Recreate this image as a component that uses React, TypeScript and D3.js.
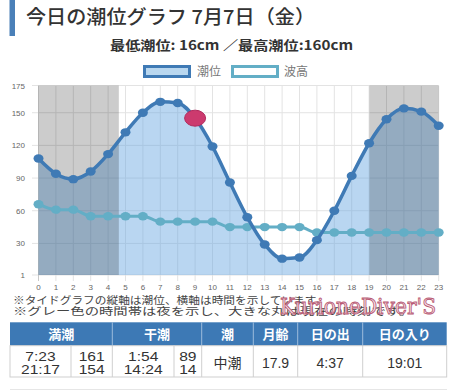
import * as d3 from 'd3';

const hours = d3.range(0, 24);
const tide = [108, 94, 89, 96, 112, 132, 150, 160, 159, 145, 119, 86, 54, 29, 16, 17, 33, 60, 92, 122, 144, 154, 151, 138];
const wave = [66, 61, 61, 55, 55, 55, 55, 50, 50, 50, 50, 45, 45, 45, 45, 45, 40, 40, 40, 40, 40, 40, 40, 40];
const yTicks = [1, 30, 60, 90, 120, 150, 175];
const nights: [number, number][] = [[0, 4.617], [19.017, 23]];
const currentHour = 9;

const notes = [
  '※タイドグラフの縦軸は潮位、横軸は時間を示しています。',
  '※グレー色の時間帯は夜を示し、大きな丸は現在の時刻です。',
];
const headers = ['満潮', '干潮', '潮', '月齢', '日の出', '日の入り'];
const highTimes = ['7:23', '21:17'];
const highLevels = ['161', '154'];
const lowTimes = ['1:54', '14:24'];
const lowLevels = ['89', '14'];
const singles = ['中潮', '17.9', '4:37', '19:01'];

const FONT = '"Noto Sans CJK JP", "Noto Sans", sans-serif';
const NUM_FONT = '"Liberation Sans", Arial, sans-serif';
const BLUE = '#3f7ab5';
const TEAL = '#63aec6';

export default function App() {
  const x = d3.scaleLinear().domain([0, 23]).range([38.5, 438.7]);
  const y = d3.scaleLinear().domain([1, 175]).range([275, 85.5]);

  const line = d3.line<number>().x((_, i) => x(i)).y((d) => y(d)).curve(d3.curveMonotoneX);
  const area = d3.area<number>().x((_, i) => x(i)).y0(y(1)).y1((d) => y(d)).curve(d3.curveMonotoneX);

  // table columns
  const cols = [10, 112.3, 201.7, 253.3, 297.7, 362.7, 446.7];
  const subHigh = 71;
  const subLow = 174;
  const tTop = 322.3, tMid = 345.7, tBot = 377;

  const twoLine: [string[], number][] = [
    [highTimes, (cols[0] + subHigh) / 2],
    [highLevels, (subHigh + cols[1]) / 2],
    [lowTimes, (cols[1] + subLow) / 2],
    [lowLevels, (subLow + cols[2]) / 2],
  ];

  return (
    <svg width={457} height={391} style={{ position: 'absolute', left: 0, top: 0 }} fontFamily={FONT}>
      <rect x={0} y={0} width={457} height={391} fill="#fff" />
      <rect x={9.5} y={0} width={5.5} height={36} fill="#4a80b8" />
      <text x={26} y={24} fontSize={19} fontWeight={500} fill="#333" textLength={289} lengthAdjust="spacingAndGlyphs">
        今日の潮位グラフ 7月7日（金）
      </text>
      <text x={231.5} y={49.5} fontSize={13} fontWeight={700} fill="#333" textAnchor="middle" textLength={243} lengthAdjust="spacingAndGlyphs">
        最低潮位: 16cm ／最高潮位:160cm
      </text>

      {/* legend */}
      <rect x={144.5} y={66.5} width={45} height={10} fill="#b9d7ef" stroke={BLUE} strokeWidth={3} />
      <text x={197} y={76} fontSize={12} fill="#777">潮位</text>
      <rect x={232.5} y={66.5} width={45} height={10} fill="#fff" stroke={TEAL} strokeWidth={3} />
      <text x={284} y={76} fontSize={12} fill="#777">波高</text>

      {/* grid */}
      {yTicks.map((t) => (
        <g key={'y' + t}>
          <line x1={32} x2={x(23)} y1={y(t)} y2={y(t)} stroke="#e3e3e3" strokeWidth={1} />
          <text x={25} y={y(t) + 3} fontSize={8} fill="#666" textAnchor="end" fontFamily={NUM_FONT}>{t}</text>
        </g>
      ))}
      {hours.map((h) => (
        <g key={'x' + h}>
          <line x1={x(h)} x2={x(h)} y1={y(175)} y2={y(1) + 6} stroke={h === 0 ? '#c9c9c9' : '#e3e3e3'} strokeWidth={1} />
          <text x={x(h)} y={290} fontSize={8} fill="#666" textAnchor="middle" fontFamily={NUM_FONT}>{h}</text>
        </g>
      ))}

      <path d={area(tide) ?? ''} fill="rgba(100,165,225,0.45)" />
      {nights.map(([a, b], i) => (
        <rect key={i} x={x(a)} y={y(175)} width={x(b) - x(a)} height={y(1) - y(175)} fill="rgba(0,0,0,0.2)" />
      ))}

      <path d={line(wave) ?? ''} fill="none" stroke={TEAL} strokeWidth={3} />
      {wave.map((d, i) => (
        <ellipse key={'w' + i} cx={x(i)} cy={y(d)} rx={5} ry={4.2} fill={TEAL} />
      ))}
      <path d={line(tide) ?? ''} fill="none" stroke={BLUE} strokeWidth={3.5} />
      {tide.map((d, i) => (
        <ellipse key={'t' + i} cx={x(i)} cy={y(d)} rx={5} ry={4.2} fill={BLUE} />
      ))}
      <ellipse cx={x(currentHour)} cy={y(tide[currentHour])} rx={10.5} ry={8} fill="#cc3a6e" stroke="#b02a5c" strokeWidth={1} />

      {/* notes */}
      {notes.map((n, i) => (
        <text key={n} x={13} y={303.5 + i * 11} fontSize={10.5} fill="#444" textLength={i === 0 ? 314 : 400} lengthAdjust="spacingAndGlyphs">
          {n}
        </text>
      ))}
      <text x={280} y={314} fontSize={22} fontFamily='"DejaVu Serif", serif' fill="#f8e4e9" stroke="#b85a74" strokeWidth={0.9}
        textLength={156} lengthAdjust="spacingAndGlyphs">
        KurioneDiver'S
      </text>

      {/* table */}
      <rect x={cols[0]} y={tTop} width={cols[6] - cols[0]} height={tMid - tTop} fill="#3d79b5" />
      <rect x={cols[0]} y={tMid} width={cols[6] - cols[0]} height={tBot - tMid} fill="#fff" stroke="#cfcfcf" strokeWidth={1} />
      {cols.slice(1, 6).map((c, i) => (
        <g key={'c' + i}>
          <line x1={c} x2={c} y1={tTop} y2={tMid} stroke="#9dbcdc" strokeWidth={1} />
          <line x1={c} x2={c} y1={tMid} y2={tBot} stroke="#cfcfcf" strokeWidth={1} />
        </g>
      ))}
      <line x1={subHigh} x2={subHigh} y1={tMid} y2={tBot} stroke="#cfcfcf" />
      <line x1={subLow} x2={subLow} y1={tMid} y2={tBot} stroke="#cfcfcf" />
      {headers.map((h, i) => (
        <text key={h} x={(cols[i] + cols[i + 1]) / 2} y={338.5} fontSize={13} fontWeight={700} fill="#fff" textAnchor="middle">
          {h}
        </text>
      ))}
      {twoLine.map(([vals, cx], j) =>
        vals.map((v, k) => (
          <g key={j + '-' + k} transform={`translate(${cx},${360.5 + k * 13.5}) scale(1.3,1)`}>
            <text x={0} y={0} fontSize={12} fill="#333" textAnchor="middle" fontFamily={NUM_FONT}>{v}</text>
          </g>
        )),
      )}
      {singles.map((s, i) => (
        <text key={s} x={(cols[i + 2] + cols[i + 3]) / 2} y={367.5} fontSize={14} fill="#333" textAnchor="middle"
          fontFamily={i === 0 ? FONT : NUM_FONT}>
          {s}
        </text>
      ))}
      <line x1={10} x2={447} y1={389.5} y2={389.5} stroke="#e6e6e6" />
    </svg>
  );
}
